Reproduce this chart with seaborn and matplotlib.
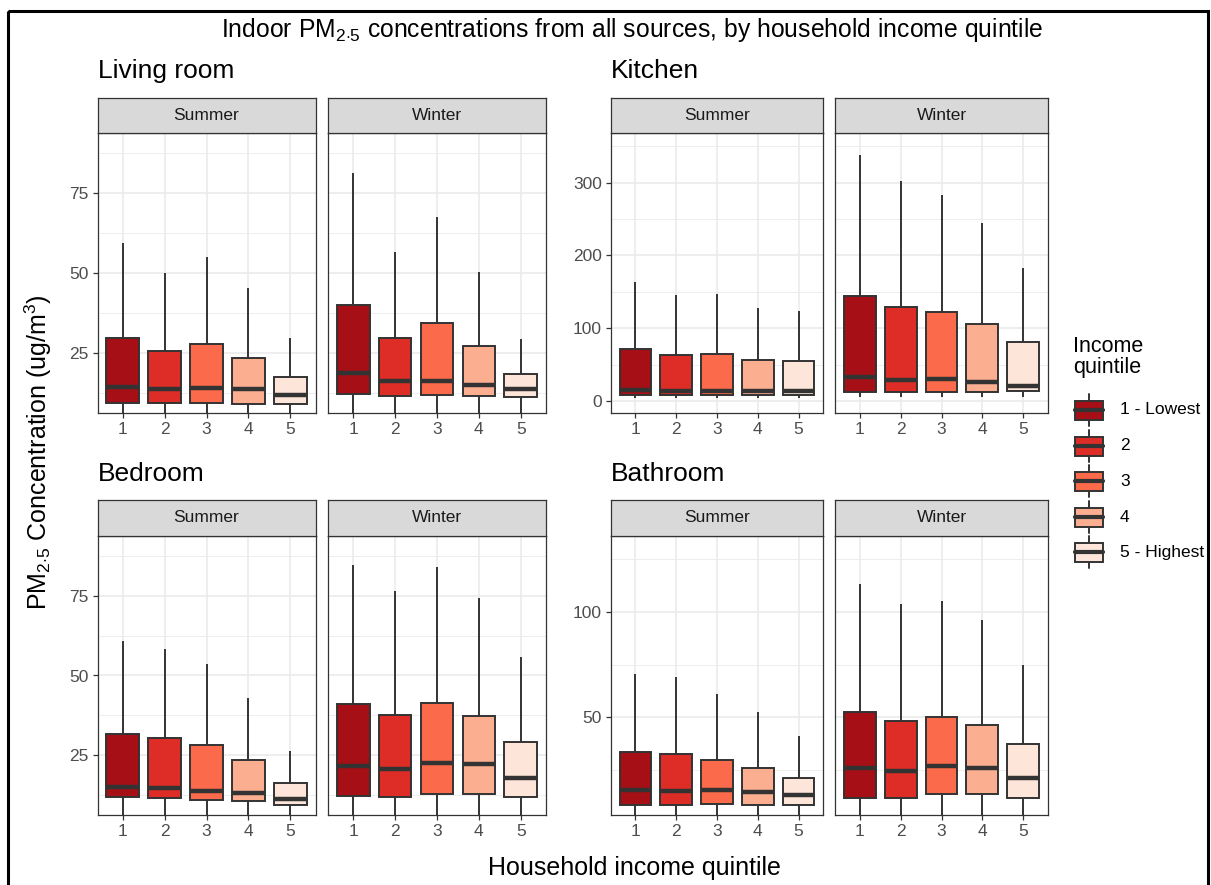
import matplotlib
matplotlib.use("Agg")
import matplotlib.pyplot as plt
from matplotlib.patches import Rectangle
from matplotlib.ticker import MultipleLocator
import pandas as pd
import seaborn as sns

rooms = ["Living room", "Kitchen", "Bedroom", "Bathroom"]
seasons = ["Summer", "Winter"]
quintiles = ["1", "2", "3", "4", "5"]
legend_labels = ["1 - Lowest", "2", "3", "4", "5 - Highest"]
colors = ["#A50F15", "#DE2D26", "#FB6A4A", "#FCAE91", "#FEE5D9"]

# box stats per quintile: lower whisker, q1, median, q3, upper whisker
living_summer = [[3, 9.5, 14.3, 29.6, 59.5], [3, 9.3, 13.8, 25.7, 50.0],
                 [3, 9.3, 14.2, 27.7, 54.9], [3, 9.0, 13.6, 23.5, 45.3],
                 [3, 9.1, 11.9, 17.4, 29.6]]
living_winter = [[3, 12.2, 18.6, 40.0, 81.1], [3, 11.7, 16.2, 29.8, 56.7],
                 [3, 11.8, 16.2, 34.3, 67.6], [3, 11.6, 15.0, 27.1, 50.2],
                 [3, 11.2, 13.6, 18.4, 29.3]]
kitchen_summer = [[4, 8.7, 15.1, 71.6, 164], [4, 8.3, 14.2, 63.8, 145],
                  [4, 8.7, 13.3, 64.7, 147], [4, 8.7, 13.3, 56.4, 127.5],
                  [4, 8.7, 14.2, 54.6, 123]]
kitchen_winter = [[5, 12.4, 33.5, 143.6, 337.6], [5, 11.9, 28.9, 129, 302],
                  [5, 12.8, 29.8, 122, 283], [5, 12.4, 26.1, 105.5, 244],
                  [5, 13.3, 21.1, 80.7, 182.6]]
bedroom_summer = [[3, 11.8, 15.0, 31.5, 60.7], [3, 11.6, 14.7, 30.5, 58.4],
                  [3, 11.1, 13.9, 28.1, 53.7], [3, 10.6, 13.2, 23.5, 42.9],
                  [3, 9.5, 11.4, 16.3, 26.2]]
bedroom_winter = [[3, 12.1, 21.5, 41.2, 84.7], [3, 11.8, 20.7, 37.7, 76.4],
                  [3, 12.9, 22.6, 41.4, 83.9], [3, 12.9, 22.4, 37.4, 74.4],
                  [3, 11.8, 17.9, 29.2, 55.8]]
bathroom_summer = [[2, 8.5, 15.6, 33.4, 70.3], [2, 8.4, 15.1, 32.6, 68.9],
                   [2, 9.0, 15.6, 29.8, 61.0], [2, 8.4, 14.8, 25.9, 52.4],
                   [2, 8.4, 13.1, 21.5, 41.2]]
bathroom_winter = [[2, 12.0, 26.2, 52.7, 113.1], [2, 11.7, 24.6, 48.4, 103.8],
                   [2, 13.6, 27.1, 50.0, 105.0], [2, 13.6, 26.2, 46.5, 96.1],
                   [2, 12.0, 21.5, 37.2, 74.8]]

stats = {
    ("Living room", "Summer"): living_summer, ("Living room", "Winter"): living_winter,
    ("Kitchen", "Summer"): kitchen_summer, ("Kitchen", "Winter"): kitchen_winter,
    ("Bedroom", "Summer"): bedroom_summer, ("Bedroom", "Winter"): bedroom_winter,
    ("Bathroom", "Summer"): bathroom_summer, ("Bathroom", "Winter"): bathroom_winter,
}

rows = []
for (room, season), boxes in stats.items():
    for q, vals in zip(quintiles, boxes):
        for v in vals:
            rows.append({"room": room, "season": season, "quintile": q, "value": v})
df = pd.DataFrame(rows)

# axis settings per room
y_limits = {"Living room": (6.25, 93.75), "Kitchen": (-16.5, 368),
            "Bedroom": (6.25, 93.75), "Bathroom": (3.8, 135.8)}
y_ticks = {"Living room": [25, 50, 75], "Kitchen": [0, 100, 200, 300],
           "Bedroom": [25, 50, 75], "Bathroom": [50, 100]}
y_minor = {"Living room": 12.5, "Kitchen": 50, "Bedroom": 12.5, "Bathroom": 25}

W, H = 1211, 885
# pixel layout: (summer x0, x1), (winter x0, x1), strip top, panel top, panel bottom
layout = {
    "Living room": ((97.5, 315.5), (328, 546), 98, 133, 413),
    "Kitchen": ((611, 823), (835, 1048), 98, 133, 413),
    "Bedroom": ((97.5, 315.5), (328, 546), 500, 536, 815),
    "Bathroom": ((611, 823), (835, 1048), 500, 536, 815),
}

sns.set_theme(style="white")
plt.rcParams["font.family"] = ["Liberation Sans", "DejaVu Sans"]
plt.rcParams["mathtext.fontset"] = "custom"
plt.rcParams["mathtext.rm"] = "Liberation Sans"
plt.rcParams["mathtext.it"] = "Liberation Sans:italic"

DARK = "#333333"
GRID = "#EBEBEB"
TICKLAB = "#4D4D4D"


def px_rect(x0, x1, y0, y1):
    return [x0 / W, 1 - y1 / H, (x1 - x0) / W, (y1 - y0) / H]


fig = plt.figure(figsize=(W / 100, H / 100), dpi=100)

for room in rooms:
    xs_sum, xs_win, ys, yt, yb = layout[room]
    for season, (x0, x1) in zip(seasons, [xs_sum, xs_win]):
        ax = fig.add_axes(px_rect(x0, x1, yt, yb))
        sub = df[(df["room"] == room) & (df["season"] == season)]
        sns.boxplot(data=sub, x="quintile", y="value", hue="quintile",
                    order=quintiles, hue_order=quintiles, palette=colors,
                    saturation=1, whis=(0, 100), width=0.78,
                    linecolor=DARK, linewidth=1.4,
                    medianprops={"linewidth": 3.2, "color": DARK},
                    capprops={"visible": False},
                    legend=False, ax=ax)
        ax.set_xlim(-0.6, 4.6)
        ax.set_ylim(*y_limits[room])
        ax.set_yticks(y_ticks[room])
        ax.yaxis.set_minor_locator(MultipleLocator(y_minor[room]))
        ax.set_axisbelow(True)
        ax.grid(which="major", axis="both", color=GRID, linewidth=1.2)
        ax.grid(which="minor", axis="y", color=GRID, linewidth=0.6)
        ax.set_xlabel("")
        ax.set_ylabel("")
        for sp in ax.spines.values():
            sp.set_color(DARK)
            sp.set_linewidth(0.9)
        ax.tick_params(axis="both", which="major", length=3.5, width=0.9,
                       color=DARK, labelcolor=TICKLAB, labelsize=12.5, pad=3,
                       bottom=True, left=True)
        ax.tick_params(axis="y", which="minor", length=0)
        if season == "Winter":
            ax.tick_params(axis="y", left=False, labelleft=False)

        sax = fig.add_axes(px_rect(x0, x1, ys, yt))
        sax.set_facecolor("#D9D9D9")
        sax.set_xticks([])
        sax.set_yticks([])
        for sp in sax.spines.values():
            sp.set_color(DARK)
            sp.set_linewidth(0.9)
        sax.text(0.5, 0.5, season, ha="center", va="center",
                 fontsize=12.5, color="#1A1A1A", transform=sax.transAxes)

    fig.text(xs_sum[0] / W, 1 - (yt - 62) / H, room, ha="left", va="center",
             fontsize=19, color="black")

# overlay for frame and legend
ov = fig.add_axes([0, 0, 1, 1], zorder=-1)
ov.set_xlim(0, W)
ov.set_ylim(H, 0)
ov.axis("off")
ov.add_patch(Rectangle((8, 11), 1200, 900, fill=False, edgecolor="black",
                       linewidth=2.2))

fig.text(632 / W, 1 - 30 / H,
         r"Indoor PM$_{2{\cdot}5}$ concentrations from all sources, by household income quintile",
         ha="center", va="center", fontsize=17.8, color="black")
fig.text(38 / W, 1 - 452 / H, r"PM$_{2{\cdot}5}$ Concentration (ug/m$^3$)",
         ha="center", va="center", rotation=90, fontsize=18, color="black")
fig.text(634 / W, 1 - 868 / H, "Household income quintile",
         ha="center", va="center", fontsize=18, color="black")

# legend
fig.text(1073 / W, 1 - 357 / H, "Income\nquintile", ha="left", va="center",
         fontsize=15.5, linespacing=1.0, color="black")
key_y = [410, 446, 481, 517, 552]
for col, lab, ky in zip(colors, legend_labels, key_y):
    ov.plot([1089, 1089], [ky - 16, ky + 16], color=DARK, lw=1.4)
    ov.add_patch(Rectangle((1075, ky - 9.5), 28, 19, facecolor=col,
                           edgecolor=DARK, linewidth=1.4, zorder=3))
    ov.plot([1075, 1103], [ky, ky], color=DARK, lw=3, zorder=4)
    ov.text(1120, ky, lab, ha="left", va="center", fontsize=12.5, color="black")

fig.savefig("out.png", dpi=100)
